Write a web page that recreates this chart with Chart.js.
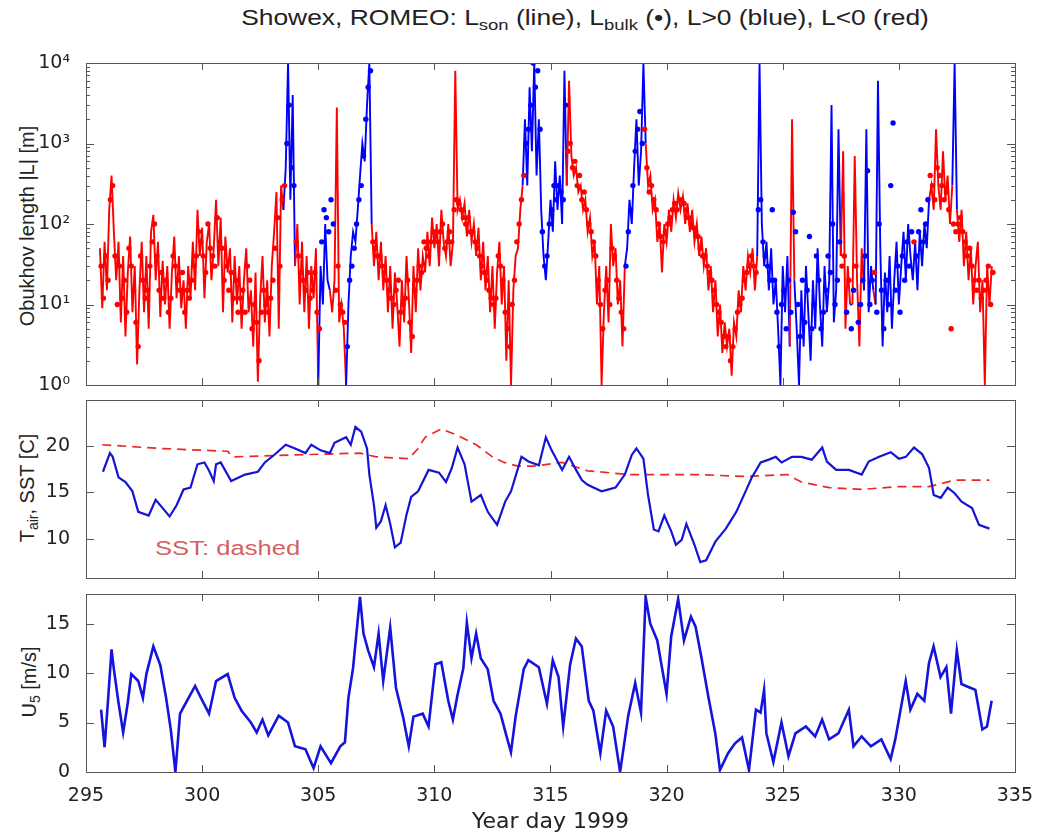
<!DOCTYPE html>
<html>
<head>
<meta charset="utf-8">
<script src="https://cdn.jsdelivr.net/npm/chart.js@4.4.1/dist/chart.umd.min.js"></script>
<style>
  body { margin: 0; background: #fff; width: 1038px; height: 836px; position: relative; overflow: hidden;
         font-family: "Liberation Sans", Arial, sans-serif; color: #222; }
  canvas { position: absolute; left: 0; }
  .txt { position: absolute; white-space: nowrap; }
  .ylab { position: absolute; white-space: nowrap; font-size: 20px; transform: translate(-50%, -50%) rotate(-90deg); }
  sub { font-size: 70%; vertical-align: -0.35em; line-height: 0; }
</style>
</head>
<body>
<div class="txt" style="left:585px;top:5px;font-size:22px;transform:translateX(-50%) scaleX(1.2);">Showex, ROMEO: L<sub>son</sub> (line), L<sub>bulk</sub> (&bull;), L&gt;0 (blue), L&lt;0 (red)</div>
<div class="ylab" style="left:27px;top:226px;">Obukhov length |L| [m]</div>
<div class="ylab" style="left:27px;top:488px;">T<sub>air</sub>, SST [C]</div>
<div class="ylab" style="left:29px;top:682px;">U<sub>5</sub> [m/s]</div>
<div class="txt" style="left:155px;top:537px;font-size:20px;color:rgb(215,95,95);transform-origin:0 0;transform:scaleX(1.28);">SST: dashed</div>

<canvas id="cL" width="1038" height="372" style="top:38px"></canvas>
<canvas id="cT" width="1038" height="228" style="top:375px"></canvas>
<canvas id="cU" width="1038" height="267" style="top:569px"></canvas>

<script>
var RED = 'rgb(255,0,0)';
var BLUE = 'rgb(0,0,255)';

// x axis: year day
var dayTicks = [295, 300, 305, 310, 315, 320, 325, 330, 335];

// Obukhov length from sonic, signed (L<0 red, L>0 blue), one row per day, 0.1 day steps from 295.6
var LSON_T0 = 295.6, LSON_DT = 0.1;
var lsonVal = [
  -50, -9, -60, -15, -150, -400, -80, -20, -60, -6,
  -40, -4, -25, -70, -8, -30, -1.8, -15, -60, -8,
  -40, -5, -80, -130, -20, -60, -7, -35, -10, -30,
  -5, -25, -70, -12, -40, -9, -20, -5, -30, -12,
  -60, -15, -150, -40, -90, -12, -60, -100, -20, -50,
  -200, -30, -120, -8, -70, -25, -50, -6, -40, -10,
  -30, -5, -20, -50, -8, -15, -3, -25, -1.1, -12,
  -40, -6, -20, -4, -30, -80, -250, -5, -300, -150,
  500, 10000, 200, 4000, -30, -100, -10, -60, -8, -40,
  -5, -30, -12, -50, -1, 30, 10, 100, 20, -15,
  8, -20, -2800, -6, -10, -5, 1, 10, 40, 80,
  60, 150, 400, 1000, 600, 3000, 10000, -100, -30, -80,
  -20, -60, -15, -40, -8, -30, -5, -25, -10, -3,
  -20, -6, -40, -12, -2.5, -30, -8, -50, -15, -40,
  -25, -80, -30, -120, -50, -100, -30, -150, -60, -40,
  -100, -30, -60, -8000, -150, -200, -120, -180, -70, -150,
  -60, -100, -40, -90, -20, -60, -15, -40, -8, -30,
  -5, -25, -60, -10, -30, -2, -20, -1, -15, -40,
  -50, -150, -300, 2000, 300, 5000, 800, 10000, 400, 2000,
  150, 40, 20, 60, 200, 80, 600, 150, 400, 100,
  8000, -300, -6000, -700, -400, -500, -250, -300, -150, -200,
  -80, -120, -40, -60, -10, -30, -1, -8, -30, -6,
  -100, -30, -50, -10, -20, -3, -30, 50, 200, 100,
  500, 2000, 300, 800, 10000, -1000, -300, -400, -150, -200,
  -60, -100, -25, -100, -60, -150, -80, -200, -120, -240,
  -150, -220, -100, -180, -80, -150, -60, -100, -40, -70,
  -30, -50, -15, -30, -8, -20, -4, -10, -2.5, -6,
  -3, -5, -1.3, -6, -4, -15, -8, -30, -15, -40,
  -25, -50, -15, -40, 10000, 100, 30, 60, 15, 50,
  10, 20, 5, 1, 30, 8, 40, 3, -2000, 20,
  5, 1, 15, 3, 30, 8, 2, 20, 5, 50,
  10, 3, 30, 8, 20, 3000, 6, 15, 1500, 40,
  -800, 5, -30, -10, 10, -700, -20, 3, -50, 15,
  1500, 8, 30, -15, 10, 6000, 50, 3, 25, 8,
  40, 5, 20, 60, 10, 30, 80, 20, 100, 40,
  20, 60, 15, 80, 30, 100, 50, 200, -300, -150,
  -1500, -300, -150, -800, -200, -400, -100, -300, 10000, -150,
  -60, -150, -30, -80, -20, -50, -10, -30, -60, -8,
  -20, -1, -30, -10, -30
];

// Obukhov length from bulk formula (dots), 0.1 day steps from 295.65
var LBULK_T0 = 295.65, LBULK_DT = 0.1;
var lbulkVal = [
  -30, -12, -40, -20, -200, -300, -40, -10, -30, -12,
  -20, -8, -50, -30, -15, -6, -3, -40, -20, -12,
  -15, -30, -60, -100, -40, -15, -25, -12, -20, -8,
  -12, -40, -30, -20, -15, -25, -8, -15, -12, -20,
  -30, -40, -80, -60, -40, -25, -100, -50, -40, -30,
  -120, -60, -50, -20, -30, -15, -25, -12, -20, -8,
  -12, -15, -8, -30, -20, -5, -10, -6, -2, -8,
  -15, -10, -8, -12, -20, -50, -120, -30, -200, -300,
  1000, 3000, 500, 300, -60, -40, -25, -20, -15, -25,
  -12, -15, -25, -8, -5, 60, 150, 120, 80, 200,
  100, -15, -30, -10, -8, -6, 3, 20, 30, 50,
  100, 200, 300, 700, 2000, 5000, 8000, -60, -50, -40,
  -40, -30, -25, -20, -15, -12, -10, -15, -20, -8,
  -10, -12, -20, -6, -4, -15, -20, -30, -25, -60,
  -50, -40, -60, -80, -70, -60, -80, -100, -50, -60,
  -80, -60, -150, -200, -180, -150, -120, -100, -120, -80,
  -80, -60, -50, -40, -30, -25, -20, -15, -12, -10,
  -12, -40, -30, -20, -8, -5, -3, -10, -20, -60,
  -100, -200, -400, 1000, 1500, 3000, 10000, 5000, 8000, 1500,
  80, 30, 40, 100, 150, 300, 200, 300, 250, 200,
  3000, -800, -1000, -500, -600, -300, -400, -200, -250, -150,
  -100, -80, -60, -40, -20, -10, -5, -15, -20, -10,
  -50, -40, -20, -12, -8, -5, 30, 80, 150, 300,
  800, 1500, 2500, 1000, -1500, -500, -250, -300, -200, -150,
  -100, -70, -60, -80, -100, -120, -150, -180, -150, -200,
  -200, -180, -150, -120, -100, -90, -80, -70, -50, -40,
  -40, -30, -25, -20, -15, -10, -8, -6, -4, -3,
  -4, -2, -3, -5, -8, -10, -12, -20, -25, -30,
  -40, -30, -25, 150, 200, 60, 40, 30, 20, 150,
  20, 8, 3, 10, 15, 5, 20, 8, 140, 80,
  10, 4, 20, 6, 15, 70, 5, 10, 40, 20,
  5, 8, 15, 40, 25, 100, 10, 20, 60, -30,
  -40, 8, -20, 5, 15, -30, 6, 10, 20, 40,
  460, 10, 20, -25, 8, 100, 15, 5, 20, 10,
  300, 1800, 15, 30, 8, 40, 20, 60, 30, 80,
  -60, 40, 80, 150, 60, 100, 200, -400, -300, -200,
  -500, -400, -300, -200, -250, -150, -5, -100, -80, -100,
  -120, -80, -60, -40, -50, -30, -20, -15, -20, -12,
  -15, -20, -30, -10, -25
];
var lTicks = [1, 10, 100, 1000, 10000];
var lTickLabels = ['10\u2070', '10\u00b9', '10\u00b2', '10\u00b3', '10\u2074'];

// air temperature (solid) and SST (dashed)
var tairDay = [295.73, 296.03, 296.15, 296.4, 296.7, 297.0, 297.25, 297.7, 298.0, 298.3, 298.6, 298.9, 299.2, 299.5,
  299.8, 300.1, 300.3, 300.5, 300.6, 300.8, 301.25, 301.85, 302.4, 302.7, 303.1, 303.6, 304.0, 304.45, 304.7, 305.1,
  305.5, 305.7, 306.2, 306.4, 306.6, 306.85, 307.1, 307.2, 307.4, 307.5, 307.7, 307.9, 308.1, 308.3, 308.55, 308.8,
  309.0, 309.3, 309.75, 310.2, 310.5, 310.75, 311.0, 311.3, 311.6, 312.0, 312.3, 312.7, 313.05, 313.3, 313.75, 314.05,
  314.5, 314.8, 315.05, 315.5, 315.8, 316.1, 316.35, 316.6, 317.2, 317.8, 318.2, 318.5, 318.7, 319.0, 319.2, 319.45,
  319.65, 319.9, 320.2, 320.4, 320.65, 320.85, 321.2, 321.45, 321.7, 322.1, 322.55, 323.0, 323.4, 323.65, 324.05,
  324.4, 324.7, 324.95, 325.4, 325.8, 326.25, 326.7, 326.9, 327.3, 327.85, 328.4, 328.7, 329.15, 329.65, 330.0, 330.3,
  330.65, 331.0, 331.3, 331.5, 331.8, 332.1, 332.4, 332.7, 333.15, 333.45, 333.9];
var tairVal = [17.2, 19.2, 18.8, 16.6, 16.1, 15.1, 12.9, 12.5, 14.2, 13.3, 12.4, 13.6, 15.3, 15.5,
  18.0, 18.2, 17.3, 16.2, 18.0, 18.2, 16.2, 16.9, 17.2, 18.2, 19.0, 20.1, 19.7, 19.2, 20.1, 19.5,
  19.2, 20.3, 20.9, 20.1, 22.0, 21.5, 19.7, 16.9, 13.6, 11.2, 11.9, 13.6, 11.6, 9.1, 9.6, 12.6,
  14.5, 15.1, 17.4, 17.1, 16.1, 17.6, 19.8, 18.0, 14.0, 14.7, 12.9, 11.5, 14.0, 15.1, 18.8, 18.3,
  17.9, 20.9, 19.5, 17.4, 18.8, 17.4, 16.3, 15.8, 15.1, 15.5, 16.9, 19.0, 19.7, 18.6, 14.7, 11.0,
  10.8, 12.5, 10.8, 9.35, 9.9, 11.6, 9.35, 7.5, 7.7, 9.7, 11.1, 12.9, 15.1, 16.5, 18.2,
  18.5, 18.8, 18.2, 18.8, 18.8, 18.5, 19.8, 18.3, 17.4, 17.4, 16.9, 18.3, 18.8, 19.3, 18.6, 18.8,
  19.8, 19.1, 17.6, 14.7, 14.4, 15.5, 14.9, 14.0, 13.3, 11.5, 11.1];
var sstDay = [295.7, 298.2, 301.1, 301.3, 303.9, 306.8, 307.5, 308.9, 309.3, 309.6, 310.3, 311.0, 311.8, 312.5,
  313.0, 313.6, 314.3, 315.5, 316.6, 318.4, 321.2, 323.4, 325.2, 325.8, 327.0, 328.4, 329.9, 331.3, 332.4, 333.9];
var sstVal = [20.1, 19.7, 19.4, 18.8, 19.0, 19.2, 18.8, 18.6, 19.7, 20.9, 21.8, 21.1, 20.1, 18.8,
  18.2, 17.8, 17.8, 18.2, 17.3, 16.9, 16.9, 16.7, 16.9, 16.1, 15.5, 15.3, 15.6, 15.6, 16.3, 16.3];
var tTicks = [10, 15, 20];

// wind speed
var windDay = [295.65, 295.8, 295.95, 296.1, 296.2, 296.4, 296.6, 296.8, 296.95, 297.25, 297.45, 297.6, 297.9, 298.2,
  298.45, 298.65, 298.85, 299.05, 299.3, 299.7, 299.95, 300.3, 300.6, 301.1, 301.4, 301.7, 302.1, 302.35, 302.6,
  302.85, 303.3, 303.7, 304.0, 304.45, 304.8, 305.1, 305.55, 305.95, 306.15, 306.3, 306.5, 306.8, 306.95, 307.15,
  307.4, 307.6, 307.8, 308.1, 308.35, 308.65, 308.9, 309.1, 309.5, 309.75, 310.05, 310.3, 310.6, 310.8, 311.0,
  311.25, 311.4, 311.6, 311.8, 312.0, 312.3, 312.55, 312.85, 313.1, 313.3, 313.5, 313.85, 314.05, 314.5, 314.85,
  315.1, 315.35, 315.55, 315.85, 316.1, 316.35, 316.65, 316.85, 317.15, 317.4, 317.7, 318.0, 318.35, 318.65, 318.9,
  319.1, 319.3, 319.6, 319.8, 320.0, 320.2, 320.5, 320.75, 321.05, 321.25, 321.5, 321.8, 322.1, 322.3, 322.65,
  322.95, 323.25, 323.55, 323.85, 324.05, 324.2, 324.3, 324.6, 324.95, 325.25, 325.55, 326.0, 326.4, 326.7, 327.0,
  327.4, 327.85, 328.05, 328.4, 328.8, 329.25, 329.65, 329.85, 330.3, 330.5, 330.8, 331.1, 331.3, 331.5, 331.8,
  332.05, 332.25, 332.5, 332.7, 333.0, 333.3, 333.6, 333.8, 334.0];
var windVal = [6.3, 2.5, 7.3, 12.4, 10.4, 7.0, 4.0, 7.0, 9.9, 9.2, 7.5, 9.9, 12.7, 10.8,
  7.5, 4.3, 0, 5.9, 7.0, 8.7, 7.5, 5.9, 9.2, 9.9, 7.5, 6.2, 5.0, 4.0, 5.3,
  3.7, 5.7, 5.0, 2.6, 2.3, 0.4, 2.6, 0.9, 2.6, 3.0, 7.5, 10.5, 17.7, 14.0, 12.3,
  10.6, 14.0, 9.2, 14.6, 8.5, 5.6, 2.6, 5.6, 5.9, 4.6, 10.9, 11.1, 7.2, 5.3, 7.8,
  10.5, 15.1, 11.5, 14.0, 11.5, 10.4, 7.2, 5.9, 3.7, 2.0, 5.6, 10.4, 11.3, 10.6, 6.9,
  11.3, 9.6, 4.6, 10.9, 13.5, 12.7, 7.2, 6.2, 1.9, 6.2, 4.6, 0, 5.7, 9.0, 6.0,
  17.7, 15.0, 13.3, 10.6, 7.9, 13.7, 17.5, 13.3, 15.7, 14.7, 11.6, 7.6, 3.9, 0.2, 1.9,
  2.9, 3.5, 0.2, 6.3, 6.0, 8.3, 3.9, 1.0, 5.0, 1.6, 3.9, 4.6, 3.6, 5.3, 3.3,
  3.9, 6.3, 2.6, 3.6, 2.6, 3.3, 1.3, 3.3, 9.2, 6.3, 7.9, 7.2, 11.0, 12.7, 9.6,
  10.6, 5.9, 12.3, 8.9, 8.6, 8.3, 4.3, 4.6, 7.2];
var uTicks = [0, 5, 10, 15];

var FONT = { family: '"DejaVu Sans", sans-serif', size: 19 };

// box around each axes and MATLAB-style inward tick marks
var frame = {
  id: 'frame',
  afterDraw: function (chart) {
    var ctx = chart.ctx, a = chart.chartArea, sx = chart.scales.x, sy = chart.scales.y;
    ctx.save();
    ctx.strokeStyle = '#555';
    ctx.lineWidth = 1;
    ctx.strokeRect(Math.round(a.left) + 0.5, Math.round(a.top) + 0.5, Math.round(a.right - a.left), Math.round(a.bottom - a.top));
    ctx.beginPath();
    sx.ticks.forEach(function (t) {
      var px = Math.round(sx.getPixelForValue(t.value)) + 0.5;
      ctx.moveTo(px, a.bottom); ctx.lineTo(px, a.bottom - 7);
      ctx.moveTo(px, a.top); ctx.lineTo(px, a.top + 7);
    });
    sy.ticks.forEach(function (t) {
      var py = Math.round(sy.getPixelForValue(t.value)) + 0.5;
      var len = t.minor ? 4 : 8;
      ctx.moveTo(a.left, py); ctx.lineTo(a.left + len, py);
      ctx.moveTo(a.right, py); ctx.lineTo(a.right - len, py);
    });
    ctx.stroke();
    ctx.restore();
  }
};

function xScale(show) {
  var o = {
    type: 'linear', min: 295, max: 335, display: show,
    afterBuildTicks: function (s) { s.ticks = dayTicks.map(function (v) { return { value: v }; }); },
    grid: { display: false }, border: { display: false },
    ticks: { color: '#222', font: FONT, padding: 5, maxRotation: 0 },
    title: { display: show, text: 'Year day 1999', color: '#222', font: { family: FONT.family, size: 22 }, padding: { top: 0, bottom: 1 } }
  };
  if (show) o.afterFit = function (s) { s.height = 64; };
  return o;
}

function yScale(min, max, ticks) {
  return {
    type: 'linear', min: min, max: max,
    afterBuildTicks: function (s) { s.ticks = ticks.map(function (v) { return { value: v }; }); },
    afterFit: function (s) { s.width = 86; },
    grid: { display: false }, border: { display: false },
    ticks: { color: '#222', font: FONT, padding: 8 }
  };
}

function baseOptions(pad, scales) {
  return {
    responsive: false, animation: false,
    layout: { padding: { left: 0, right: 23, top: pad[0], bottom: pad[1] } },
    plugins: { legend: { display: false }, tooltip: { enabled: false } },
    scales: scales
  };
}

// panel 1: Obukhov length
var lsonPts = lsonVal.map(function (v, i) {
  return { x: Math.round((LSON_T0 + i * LSON_DT) * 100) / 100, y: Math.abs(v) };
});
var lbulkPts = lbulkVal.map(function (v, i) {
  return { x: Math.round((LBULK_T0 + i * LBULK_DT) * 100) / 100, y: Math.abs(v) };
});
var logTicks = [];
lTicks.forEach(function (d, k) {
  logTicks.push({ value: d });
  if (k < lTicks.length - 1) {
    for (var m = 2; m <= 9; m++) logTicks.push({ value: d * m, minor: true });
  }
});

new Chart(document.getElementById('cL'), {
  type: 'line',
  data: {
    datasets: [
      {
        data: lbulkPts, showLine: false, order: 0,
        pointRadius: 2.7, pointBorderWidth: 0,
        pointBackgroundColor: lbulkVal.map(function (v) { return v > 0 ? BLUE : RED; })
      },
      {
        data: lsonPts, order: 1, borderWidth: 1.9, pointRadius: 0, borderColor: RED,
        segment: {
          borderColor: function (c) {
            var a = lsonVal[c.p0DataIndex], b = lsonVal[c.p1DataIndex];
            return (Math.abs(a) > Math.abs(b) ? a : b) > 0 ? BLUE : RED;
          }
        }
      }
    ]
  },
  options: baseOptions([25, 25], {
    x: xScale(false),
    y: {
      type: 'logarithmic', min: 1, max: 10000,
      afterBuildTicks: function (s) { s.ticks = logTicks.map(function (t) { return Object.assign({}, t); }); },
      afterFit: function (s) { s.width = 86; },
      grid: { display: false }, border: { display: false },
      ticks: {
        color: '#222', font: FONT, padding: 8, autoSkip: false,
        callback: function (v) { var k = lTicks.indexOf(v); return k < 0 ? '' : lTickLabels[k]; }
      }
    }
  }),
  plugins: [frame]
});

// panel 2: air temperature and SST
new Chart(document.getElementById('cT'), {
  type: 'line',
  data: {
    datasets: [
      {
        data: tairDay.map(function (d, i) { return { x: d, y: tairVal[i] }; }),
        borderColor: 'rgb(20,20,210)', borderWidth: 2.2, pointRadius: 0
      },
      {
        data: sstDay.map(function (d, i) { return { x: d, y: sstVal[i] }; }),
        borderColor: 'rgb(235,40,40)', borderWidth: 1.7, borderDash: [9, 6], pointRadius: 0
      }
    ]
  },
  options: baseOptions([25, 25], {
    x: xScale(false),
    y: yScale(5.8, 24.9, tTicks)
  }),
  plugins: [frame]
});

// panel 3: wind speed
new Chart(document.getElementById('cU'), {
  type: 'line',
  data: {
    datasets: [
      {
        data: windDay.map(function (d, i) { return { x: d, y: windVal[i] }; }),
        borderColor: 'rgb(20,20,220)', borderWidth: 2.6, pointRadius: 0
      }
    ]
  },
  options: baseOptions([25, 0], {
    x: xScale(true),
    y: yScale(0, 18, uTicks)
  }),
  plugins: [frame]
});
</script>
</body>
</html>
